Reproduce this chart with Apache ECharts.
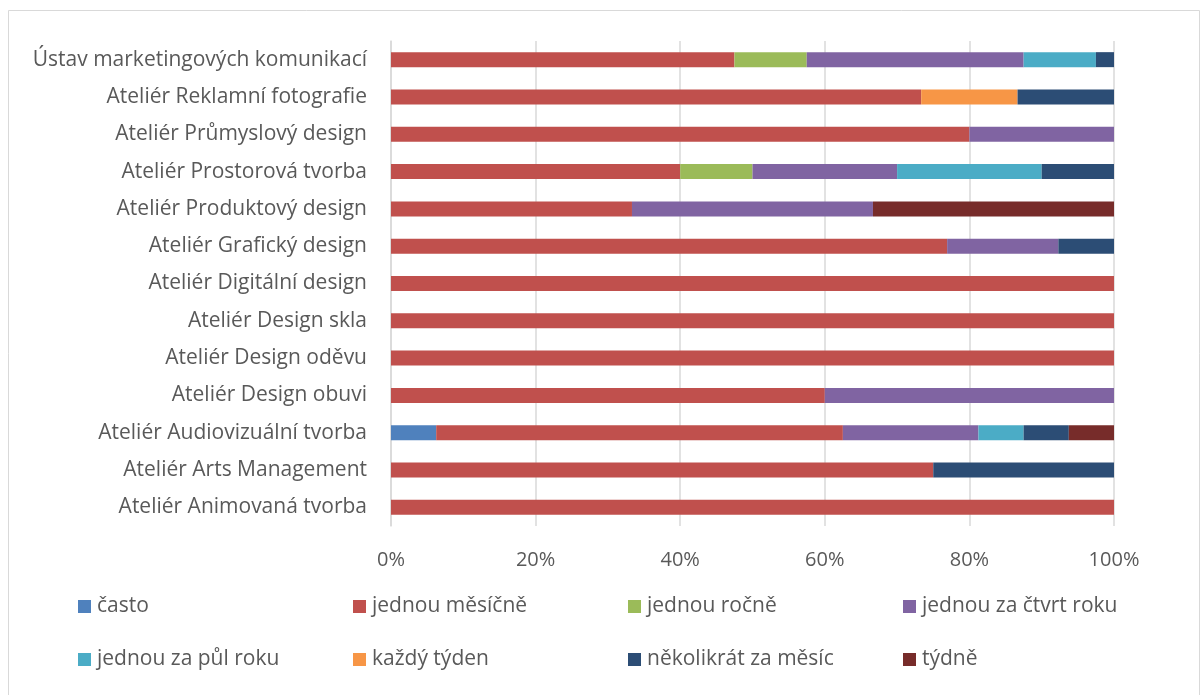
<!DOCTYPE html>
<html>
<head>
<meta charset="utf-8">
<script src="https://cdn.jsdelivr.net/npm/echarts@6/dist/echarts.min.js"></script>
<style>
  html, body { margin: 0; padding: 0; background: #fff; }
  #chart { width: 1203px; height: 695px; }
</style>
</head>
<body>
<div id="chart"></div>
<script>
// Departments, listed bottom to top as the category axis draws them
const categories = [
  'Ateliér Animovaná tvorba',
  'Ateliér Arts Management',
  'Ateliér Audiovizuální tvorba',
  'Ateliér Design obuvi',
  'Ateliér Design oděvu',
  'Ateliér Design skla',
  'Ateliér Digitální design',
  'Ateliér Grafický design',
  'Ateliér Produktový design',
  'Ateliér Prostorová tvorba',
  'Ateliér Průmyslový design',
  'Ateliér Reklamní fotografie',
  'Ústav marketingových komunikací'
];

// Share of answers per department (%), same order as categories
const casto            = [0, 0, 6.25, 0, 0, 0, 0, 0, 0, 0, 0, 0, 0];
const jednouMesicne    = [100, 75, 56.25, 60, 100, 100, 100, 76.92, 33.33, 40, 80, 73.33, 47.5];
const jednouRocne      = [0, 0, 0, 0, 0, 0, 0, 0, 0, 10, 0, 0, 10];
const jednouZaCtvrt    = [0, 0, 18.75, 40, 0, 0, 0, 15.38, 33.33, 20, 20, 0, 30];
const jednouZaPul      = [0, 0, 6.25, 0, 0, 0, 0, 0, 0, 20, 0, 0, 10];
const kazdyTyden       = [0, 0, 0, 0, 0, 0, 0, 0, 0, 0, 0, 13.33, 0];
const nekolikratMesic  = [0, 25, 6.25, 0, 0, 0, 0, 7.70, 0, 10, 0, 13.34, 2.5];
const tydne            = [0, 0, 6.25, 0, 0, 0, 0, 0, 33.34, 0, 0, 0, 0];

const axisTicks = [0, 20, 40, 60, 80, 100];

const seriesDefs = [
  { name: 'často',                data: casto,           color: '#4F81BD' },
  { name: 'jednou měsíčně',       data: jednouMesicne,   color: '#C0504D' },
  { name: 'jednou ročně',         data: jednouRocne,     color: '#9BBB59' },
  { name: 'jednou za čtvrt roku', data: jednouZaCtvrt,   color: '#8064A2' },
  { name: 'jednou za půl roku',   data: jednouZaPul,     color: '#4BACC6' },
  { name: 'každý týden',          data: kazdyTyden,      color: '#F79646' },
  { name: 'několikrát za měsíc',  data: nekolikratMesic, color: '#2C4D75' },
  { name: 'týdně',                data: tydne,           color: '#772C2A' }
];

const FONT = '"Open Sans", sans-serif';
const TEXT = '#595959';

// Legend laid out as a 4 x 2 grid of single-entry legends
const legendCols = [78, 353, 628, 903];
const legendRows = [596, 649];
const legends = seriesDefs.map((s, i) => ({
  data: [s.name],
  left: legendCols[i % 4],
  top: legendRows[Math.floor(i / 4)],
  padding: 0,
  itemWidth: 13,
  itemHeight: 13,
  itemGap: 0,
  icon: 'rect',
  textStyle: { color: TEXT, fontSize: 21, fontFamily: FONT, padding: [0, 0, 0, 1] }
}));

const chart = echarts.init(document.getElementById('chart'), null, { renderer: 'canvas' });

chart.setOption({
  animation: false,
  backgroundColor: '#fff',
  textStyle: { fontFamily: FONT },
  graphic: [{
    type: 'rect',
    shape: { x: 8.5, y: 10.5, width: 1191, height: 700 },
    style: { fill: 'none', stroke: '#d9d9d9', lineWidth: 1 },
    silent: true
  }],
  grid: { left: 391, right: 89, top: 41, bottom: 169, containLabel: false },
  xAxis: {
    type: 'value',
    min: axisTicks[0],
    max: axisTicks[axisTicks.length - 1],
    interval: axisTicks[1] - axisTicks[0],
    axisLine: { show: false },
    axisTick: { show: false },
    splitLine: { lineStyle: { color: '#d9d9d9', width: 1.5 } },
    axisLabel: {
      formatter: v => v + '%',
      color: TEXT, fontSize: 20, fontFamily: FONT, margin: 24
    }
  },
  yAxis: {
    type: 'category',
    data: categories,
    axisLine: { show: true, lineStyle: { color: '#d9d9d9', width: 1.5 } },
    axisTick: { show: false },
    axisLabel: { color: TEXT, fontSize: 21, fontFamily: FONT, margin: 24 }
  },
  legend: legends,
  series: seriesDefs.map(s => ({
    name: s.name,
    type: 'bar',
    stack: 'total',
    barWidth: 15,
    data: s.data,
    itemStyle: { color: s.color },
    emphasis: { disabled: true }
  }))
});
</script>
</body>
</html>
